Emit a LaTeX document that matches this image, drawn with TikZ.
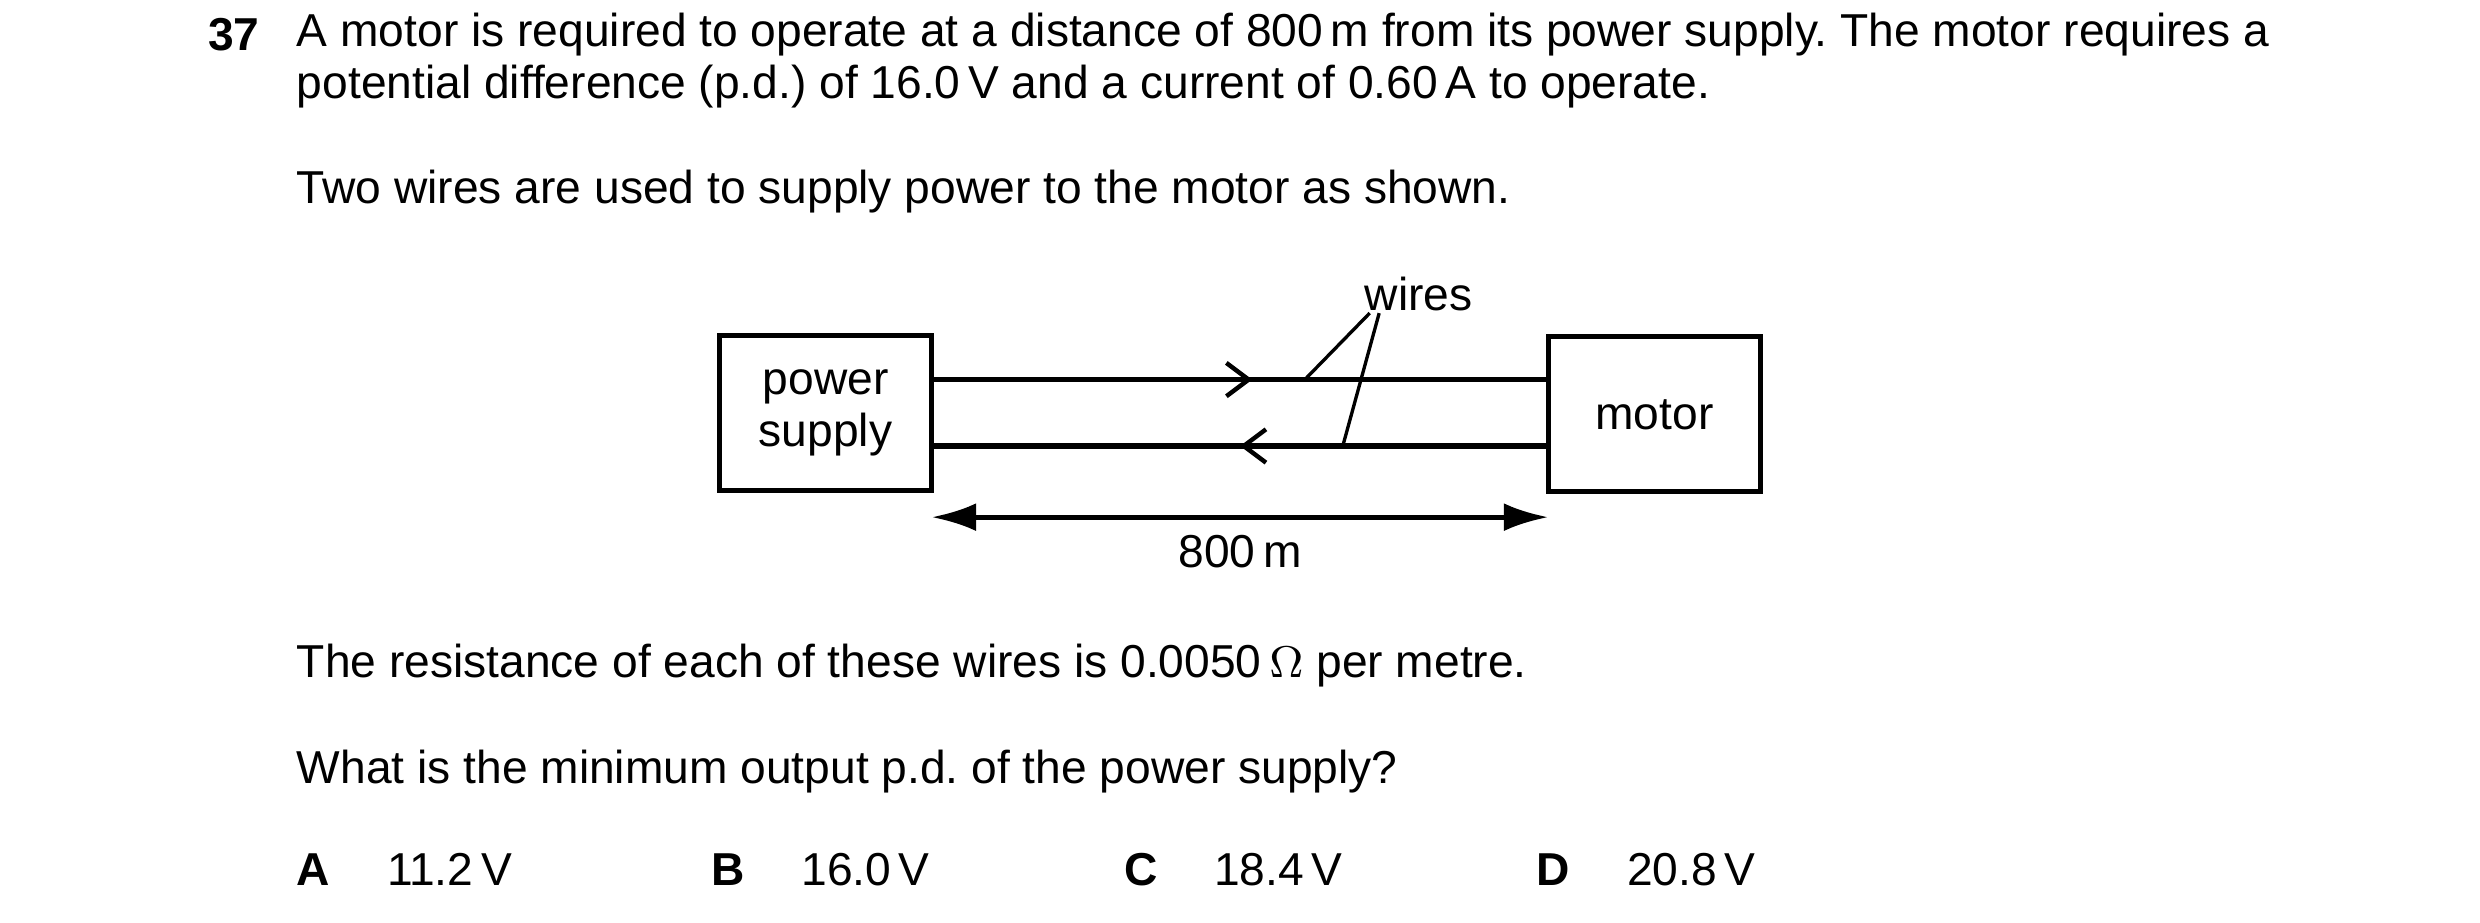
\documentclass[tikz,border=0pt]{standalone}
\usepackage{fontspec}
\setmainfont{Liberation Sans}
\usetikzlibrary{arrows.meta,decorations.markings}

\tikzstyle{textline}=[anchor=west,inner sep=0pt]
\tikzstyle{unitbox}=[draw,line width=0.9pt]
\tikzstyle{wire}=[line width=0.9pt]
\tikzstyle{midright}=[postaction={decorate},decoration={markings,mark=at position 0.52 with {\arrow[line width=0.8pt]{Straight Barb[length=4pt,width=6pt]}}}]
\tikzstyle{midleft}=[postaction={decorate},decoration={markings,mark=at position 0.50 with {\arrowreversed[line width=0.8pt]{Straight Barb[length=4pt,width=6pt]}}}]
\tikzstyle{dimarc}=[{Latex[length=8pt,width=5pt]}-{Latex[length=8pt,width=5pt]},line width=0.9pt]

\begin{document}
\frenchspacing
\begin{tikzpicture}[x=0.01cm,y=-0.01cm,font=\fontsize{8.3}{9.4}\selectfont]
\useasboundingbox (0,0) rectangle (1568,583);

\node[textline,font=\fontsize{8.3}{9.4}\selectfont\bfseries] (Q) at (131,22) {37};
\node[textline] (L1) at (187,22) {A motor is required to operate at a distance of 800\,m from its power supply. The motor requires a};
\node[textline] (L2) at (187,55) {potential difference (p.d.) of 16.0\,V and a current of 0.60\,A to operate.};
\node[textline] (L3) at (187,121) {Two wires are used to supply power to the motor as shown.};

\node[unitbox,minimum width=1.34cm,minimum height=0.98cm,align=center,inner sep=0pt] (PS) at (522,261) {power\\supply};
\node[unitbox,minimum width=1.34cm,minimum height=0.98cm,inner sep=0pt] (M) at (1046,262) {motor};

\coordinate (PSTOP) at (589,240);
\coordinate (PSBOT) at (589,282);
\coordinate (MTOP) at (979,240);
\coordinate (MBOT) at (979,282);
\draw[wire,midright] (PSTOP) -- (MTOP);
\draw[wire,midleft] (PSBOT) -- (MBOT);

\node (W) at (897,186) {wires};
\coordinate (WA) at (825,240);
\coordinate (WB) at (849,282);
\draw[line width=0.6pt] (866,198) -- (WA);
\draw[line width=0.6pt] (872,198) -- (WB);

\coordinate (DL) at (589,327);
\coordinate (DR) at (979,327);
\draw[dimarc] (DL) -- (DR);
\node (D) at (784,349) {800\,m};

\node[textline] (L4) at (187,421) {The resistance of each of these wires is 0.0050\,$\Omega$ per metre.};
\node[textline] (L5) at (187,488) {What is the minimum output p.d. of the power supply?};

\node[textline,font=\fontsize{8.3}{9.4}\selectfont\bfseries] (OA) at (187,550) {A};
\node[textline] (VA) at (244,550) {11.2\,V};
\node[textline,font=\fontsize{8.3}{9.4}\selectfont\bfseries] (OB) at (449,550) {B};
\node[textline] (VB) at (506,550) {16.0\,V};
\node[textline,font=\fontsize{8.3}{9.4}\selectfont\bfseries] (OC) at (710,550) {C};
\node[textline] (VC) at (767,550) {18.4\,V};
\node[textline,font=\fontsize{8.3}{9.4}\selectfont\bfseries] (OD) at (971,550) {D};
\node[textline] (VD) at (1028,550) {20.8\,V};

\end{tikzpicture}
\end{document}
